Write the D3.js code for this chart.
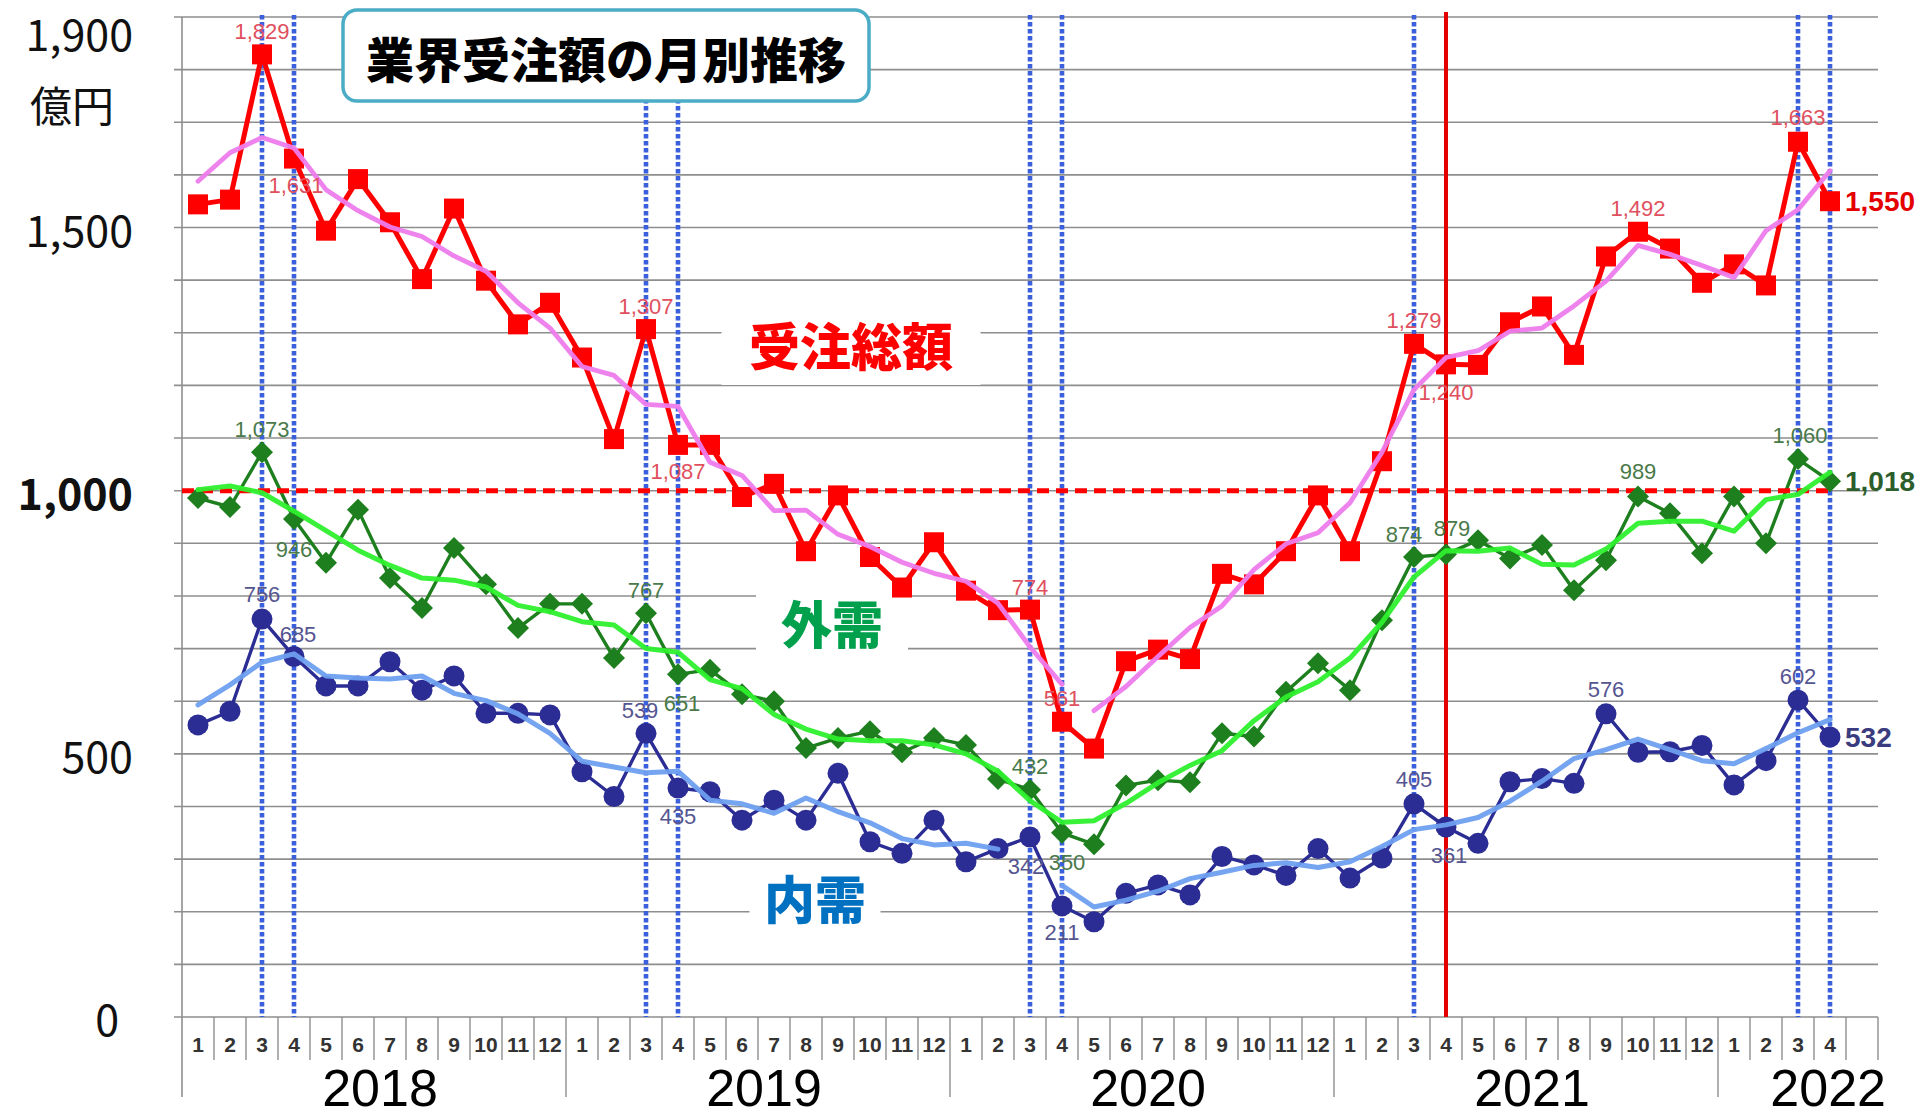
<!DOCTYPE html>
<html><head><meta charset="utf-8">
<script src="https://cdn.jsdelivr.net/npm/d3@7/dist/d3.min.js"></script>
<style>
html,body{margin:0;padding:0;background:#fff;}
svg{display:block;}
</style></head><body>
<svg id="chart" width="1930" height="1118"></svg>
<script>
// ---------------- data ----------------
const years = ["2018","2019","2020","2021","2022"];
const months = ["1","2","3","4","5","6","7","8","9","10","11","12",
                "1","2","3","4","5","6","7","8","9","10","11","12",
                "1","2","3","4","5","6","7","8","9","10","11","12",
                "1","2","3","4","5","6","7","8","9","10","11","12",
                "1","2","3","4"];
const yTickValues = [0, 500, 1000, 1500, 1900];
const yTickLabels = ["0", "500", "1,000", "1,500", "1,900"];
const unitLabel = "億円";
const title = "業界受注額の月別推移";

// 受注総額 (total orders)
const total = [1544,1553,1829,1631,1494,1592,1510,1402,1536,1399,1316,1357,
               1253,1098,1307,1087,1087,988,1013,885,991,874,816,902,
               810,773,774,561,510,676,698,680,842,822,885,991,
               885,1056,1279,1240,1239,1320,1350,1258,1445,1492,1460,1395,
               1430,1390,1663,1550];
// 外需 (overseas)
const gaiju = [986,969,1073,946,863,964,834,777,891,822,739,785,
               785,682,767,651,660,613,600,511,530,543,503,530,
               517,452,432,350,328,440,450,446,539,533,618,672,
               621,754,874,879,906,871,897,811,868,989,957,881,
               989,900,1060,1018];
// 内需 (domestic)
const naiju = [555,581,756,685,629,629,675,621,648,577,577,574,
               466,419,539,435,428,374,412,374,463,333,311,374,
               295,320,342,211,181,235,251,232,305,289,269,320,
               264,302,405,361,330,447,453,444,576,503,504,516,
               441,487,602,532];
// moving-average curves as drawn
const totalMA = [1588,1642,1671,1651,1572,1532,1501,1483,1446,1417,1357,1309,
                 1236,1219,1164,1160,1054,1029,962,963,917,894,864,843,
                 828,786,703,632,582,628,685,740,781,850,899,920,
                 977,1073,1192,1253,1266,1303,1309,1351,1398,1466,1449,1428,
                 1405,1494,1534,1608];
const gaijuMA = [1002,1009,996,961,924,887,858,834,830,817,782,770,
                 751,745,700,693,641,624,575,547,528,525,525,517,
                 500,467,411,370,373,406,445,478,506,563,608,637,
                 682,750,836,886,885,891,860,859,889,938,942,942,
                 923,983,993,1035];
const naijuMA = [593,631,674,690,648,644,642,648,615,601,576,539,
                 486,475,464,467,412,405,387,416,390,369,339,327,
                 330,319,null,250,209,222,239,263,275,288,293,284,
                 295,324,356,365,379,410,448,491,508,528,508,487,
                 481,510,540,565];
const seriesNames = ["受注総額", "外需", "内需"];
const thresholdValue = 1000;
// month indexes of the marked months
const dashedMonths = [2,3,14,15,26,27,38,50,51];
const redLineMonth = 39;
const labeledTotal = [2,3,14,15,26,27,38,39,45,50,51];
const labeledGaiju = [2,3,14,15,26,27,38,39,45,50,51];
const labeledNaiju = [2,3,14,15,26,27,38,39,44,50,51];

// ---------------- layout ----------------
const svg = d3.select("#chart");
const L = 182, R = 1878, T = 17, B = 1017;
const nBands = months.length + 1;
const x = d3.scaleBand().domain(d3.range(nBands)).range([L, R]).paddingInner(0).paddingOuter(0);
const cx = i => x(i) + x.bandwidth() / 2;
const y = d3.scaleLinear().domain([0, 1900]).range([B, T]);

const NARROW = "'Liberation Sans Narrow','Arial Narrow','Liberation Sans',sans-serif";
const JP = "'Noto Sans CJK JP','Noto Sans',sans-serif";
const LAT = "'Liberation Sans','Noto Sans',sans-serif";

// gridlines
const grid = svg.append("g");
grid.selectAll("line").data(d3.range(0, 1901, 100)).join("line")
  .attr("x1", L - 8).attr("x2", R).attr("y1", d => y(d)).attr("y2", d => y(d))
  .attr("stroke", "#8e8e8e").attr("stroke-width", 1.6);
// y axis line
svg.append("line").attr("x1", L).attr("x2", L).attr("y1", y(1900)).attr("y2", 1097)
  .attr("stroke", "#8e8e8e").attr("stroke-width", 1.6);
// month separators
const sepG = svg.append("g");
sepG.selectAll("line").data(d3.range(1, nBands + 1)).join("line")
  .attr("x1", d => d === nBands ? R : x(d)).attr("x2", d => d === nBands ? R : x(d))
  .attr("y1", B).attr("y2", d => (d % 12 === 0 && d < months.length) ? 1097 : 1060)
  .attr("stroke", "#8e8e8e").attr("stroke-width", 1.4);
// month labels
svg.append("g").selectAll("text").data(months).join("text")
  .attr("x", (d, i) => cx(i)).attr("y", 1044)
  .attr("text-anchor", "middle").attr("dominant-baseline", "central")
  .attr("font-family", NARROW).attr("font-size", 21).attr("font-weight", "bold").attr("fill", "#333")
  .text(d => d);
// year labels
svg.append("g").selectAll("text").data(years).join("text")
  .attr("x", (d, i) => {
    const s = i * 12, e = Math.min(i * 12 + 12, months.length);
    return i === years.length - 1 ? R + 8 : (x(s) + x(e - 1) + x.bandwidth()) / 2 + 6;
  })
  .attr("y", 1106)
  .attr("text-anchor", (d, i) => i === years.length - 1 ? "end" : "middle")
  .attr("font-family", LAT).attr("font-size", 52).attr("fill", "#000")
  .text(d => d);

// y labels
const yLab = svg.append("g").attr("font-family", JP).attr("fill", "#111");
yTickValues.forEach((v, k) => {
  yLab.append("text")
    .attr("x", v === 0 ? 119 : 133).attr("y", y(v) + (v === 1900 ? 15 : 0))
    .attr("text-anchor", "end").attr("dominant-baseline", "central")
    .attr("font-size", 43).attr("font-weight", v === 1000 ? "bold" : "normal")
    .text(yTickLabels[k]);
});
yLab.append("text").attr("x", 72).attr("y", 103).attr("text-anchor", "middle")
  .attr("dominant-baseline", "central").attr("font-size", 42).text(unitLabel);

// vertical blue dashed lines
svg.append("g").selectAll("line").data(dashedMonths).join("line")
  .attr("x1", d => cx(d)).attr("x2", d => cx(d)).attr("y1", T - 2).attr("y2", B)
  .attr("stroke", "#3a60dc").attr("stroke-width", 4.6).attr("stroke-dasharray", "4.5,2.5");
// red solid line
svg.append("line").attr("x1", cx(redLineMonth)).attr("x2", cx(redLineMonth))
  .attr("y1", T - 5).attr("y2", B).attr("stroke", "#e30000").attr("stroke-width", 4);

// title box
svg.append("rect").attr("x", 343).attr("y", 10).attr("width", 526).attr("height", 91)
  .attr("rx", 14).attr("fill", "#fff").attr("stroke", "#4bacc6").attr("stroke-width", 3.5);
svg.append("text").attr("x", 606).attr("y", 57).attr("text-anchor", "middle")
  .attr("dominant-baseline", "central").attr("font-family", JP).attr("font-weight", 900)
  .attr("font-size", 48).attr("fill", "#000").text(title);

// series name labels with white boxes
const nameSpecs = [
  {name: seriesNames[0], cx: 851, cy: 344, w: 259, h: 82, color: "#ff0000"},
  {name: seriesNames[1], cx: 832, cy: 622, w: 152, h: 66, color: "#00a04c"},
  {name: seriesNames[2], cx: 815, cy: 897, w: 131, h: 66, color: "#0070c0"}
];
nameSpecs.forEach(s => {
  svg.append("rect").attr("x", s.cx - s.w / 2).attr("y", s.cy - s.h / 2)
    .attr("width", s.w).attr("height", s.h).attr("fill", "#fff");
  svg.append("text").attr("x", s.cx).attr("y", s.cy).attr("text-anchor", "middle")
    .attr("dominant-baseline", "central").attr("font-family", JP).attr("font-weight", 900)
    .attr("font-size", 51).attr("fill", s.color).text(s.name);
});

// lines
const line = d3.line().defined(d => d != null).x((d, i) => cx(i)).y(d => y(d));
function drawSeries(vals, color, width) {
  svg.append("path").attr("d", line(vals)).attr("fill", "none")
    .attr("stroke", color).attr("stroke-width", width).attr("stroke-linejoin", "round");
}
drawSeries(naiju, "#2b2d94", 3.4);
drawSeries(gaiju, "#1d7f1d", 3.4);
drawSeries(total, "#ff0000", 5);

// threshold
svg.append("line").attr("x1", L).attr("x2", cx(months.length - 1))
  .attr("y1", y(thresholdValue)).attr("y2", y(thresholdValue))
  .attr("stroke", "#ff0000").attr("stroke-width", 5).attr("stroke-dasharray", "12,7");

// markers
svg.append("g").selectAll("circle").data(naiju).join("circle")
  .attr("cx", (d, i) => cx(i)).attr("cy", d => y(d)).attr("r", 10.5).attr("fill", "#2b2d94");
svg.append("g").selectAll("path").data(gaiju).join("path")
  .attr("d", (d, i) => { const X = cx(i), Y = y(d), r = 11; return `M${X},${Y - r}L${X + r},${Y}L${X},${Y + r}L${X - r},${Y}Z`; })
  .attr("fill", "#1d7f1d");
svg.append("g").selectAll("rect").data(total).join("rect")
  .attr("x", (d, i) => cx(i) - 10).attr("y", d => y(d) - 10).attr("width", 20).attr("height", 20)
  .attr("fill", "#ff0000");

// moving-average lines (drawn on top)
function drawMA(vals, color, width, segments) {
  segments.forEach(([a, b]) => {
    const seg = vals.map((v, i) => (i >= a && i <= b) ? v : null);
    svg.append("path").attr("d", line(seg)).attr("fill", "none")
      .attr("stroke", color).attr("stroke-width", width).attr("stroke-linejoin", "round")
      .attr("stroke-linecap", "round").attr("opacity", 0.95);
  });
}
drawMA(naijuMA, "#6e9ff0", 5, [[0, 51]]);
drawMA(gaijuMA, "#2ef02e", 5, [[0, 51]]);
drawMA(totalMA, "#ee7cec", 4.8, [[0, 27], [28, 51]]);

// data labels
const fmt = d3.format(",");
const place = {
  total: {2:[0,-23],3:[2,27],14:[0,-23],15:[0,27],26:[0,-22],27:[0,-23],38:[0,-23],39:[0,28],45:[0,-23],50:[0,-24]},
  gaiju: {2:[0,-23],3:[0,30],14:[0,-23],15:[4,29],26:[0,-23],27:[5,30],38:[-10,-23],39:[6,-26],45:[0,-25],50:[2,-24]},
  naiju: {2:[0,-25],3:[4,-22],14:[-6,-23],15:[0,28],26:[-4,29],27:[0,27],38:[0,-24],39:[3,28],44:[0,-24],50:[0,-24]}
};
function drawLabels(vals, idxs, key, color, lastColor) {
  idxs.forEach(i => {
    const last = i === months.length - 1;
    const off = last ? [15, 0] : place[key][i];
    svg.append("text").attr("x", cx(i) + off[0]).attr("y", y(vals[i]) + off[1])
      .attr("text-anchor", last ? "start" : "middle").attr("dominant-baseline", "central")
      .attr("font-family", NARROW).attr("font-size", last ? 28 : 22)
      .attr("font-weight", last ? "bold" : "normal")
      .attr("fill", last ? lastColor : color)
      .text(fmt(vals[i]));
  });
}
drawLabels(total, labeledTotal, "total", "#e0505e", "#e40000");
drawLabels(gaiju, labeledGaiju, "gaiju", "#4a7a4a", "#2c5e2c");
drawLabels(naiju, labeledNaiju, "naiju", "#555590", "#3b3b80");
</script>
</body></html>
